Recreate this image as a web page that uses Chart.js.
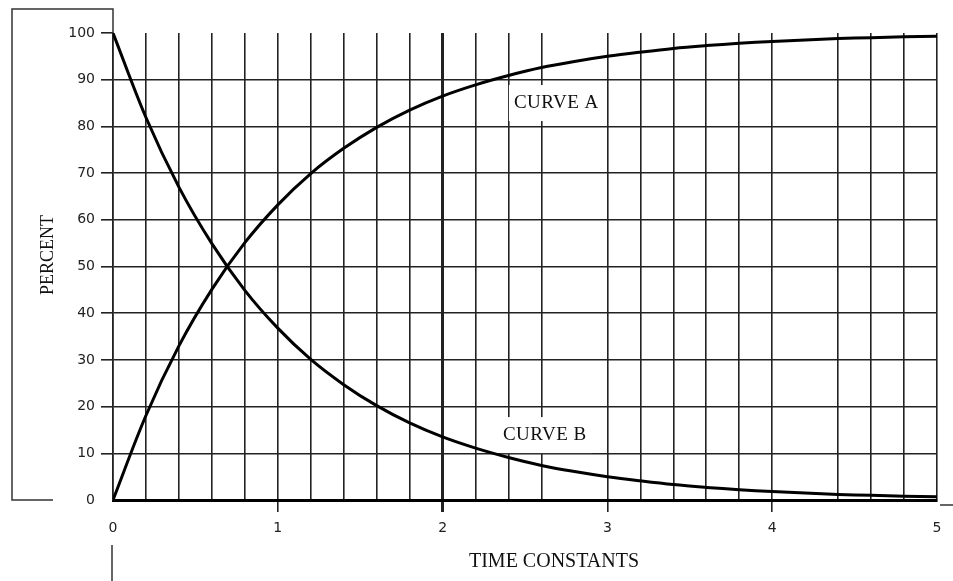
<!DOCTYPE html>
<html>
<head>
<meta charset="utf-8">
<script src="https://cdn.jsdelivr.net/npm/chart.js@4.4.1/dist/chart.umd.min.js"></script>
<style>
    html, body { margin: 0; padding: 0; background: #ffffff; }
    #wrap { width: 953px; height: 581px; }
</style>
</head>
<body>
<div id="wrap"><canvas id="timeConstantChart" width="953" height="581"></canvas></div>
<script>
// Time axis, one point every 0.2 time constants.
const timeConstants = [0, 0.2, 0.4, 0.6, 0.8, 1, 1.2, 1.4, 1.6, 1.8, 2, 2.2, 2.4, 2.6, 2.8,
    3, 3.2, 3.4, 3.6, 3.8, 4, 4.2, 4.4, 4.6, 4.8, 5];

// Curve A (rising) and curve B (falling), percent.
const curveA = [0, 18.1, 33, 45.1, 55.1, 63.2, 69.9, 75.3, 79.8, 83.5, 86.5, 88.9, 90.9, 92.6, 93.9,
    95, 95.9, 96.7, 97.3, 97.8, 98.2, 98.5, 98.8, 99, 99.2, 99.3];
const curveB = [100, 81.9, 67, 54.9, 44.9, 36.8, 30.1, 24.7, 20.2, 16.5, 13.5, 11.1, 9.1, 7.4, 6.1,
    5, 4.1, 3.3, 2.7, 2.2, 1.8, 1.5, 1.2, 1, 0.8, 0.7];

// Vertical grid lines that the original drawing leaves out.
const missingGridLines = [2.8, 4.2];

// Curve names, placed in data units.
const curveNames = ["CURVE A", "CURVE B"];
const curveNameX = [2.69, 2.62];
const curveNameY = [85, 13.9];

const xTitle = "TIME CONSTANTS";
const yTitle = "PERCENT";

const INK = "#222222";

function round1(v) {
    return Math.round(v * 10) / 10;
}

/**
 * Draws the curve names (on a white patch that hides the grid), the axis titles
 * and the odd frame lines of the old drawing.
 */
const decorations = {
    id: "decorations",
    beforeDatasetsDraw(chart) {
        const ctx = chart.ctx;
        const x = chart.scales.x;
        const y = chart.scales.y;
        ctx.save();
        ctx.font = '19px "Liberation Serif"';
        ctx.letterSpacing = "0.5px";
        curveNames.forEach((name, i) => {
            const cx = x.getPixelForValue(curveNameX[i]);
            const cy = y.getPixelForValue(curveNameY[i]);
            const w = ctx.measureText(name).width;
            ctx.fillStyle = "#ffffff";
            ctx.fillRect(cx - w / 2 - 5, cy - 18, w + 10, 36);
        });
        ctx.restore();
    },
    afterDatasetsDraw(chart) {
        const ctx = chart.ctx;
        const x = chart.scales.x;
        const y = chart.scales.y;
        ctx.save();
        ctx.font = '19px "Liberation Serif"';
        ctx.letterSpacing = "0.5px";
        ctx.fillStyle = "#111111";
        ctx.textAlign = "center";
        ctx.textBaseline = "middle";
        curveNames.forEach((name, i) => {
            ctx.fillText(name, x.getPixelForValue(curveNameX[i]), y.getPixelForValue(curveNameY[i]));
        });
        ctx.restore();
    },
    afterDraw(chart) {
        const ctx = chart.ctx;
        const area = chart.chartArea;
        ctx.save();

        // Axis titles.
        ctx.fillStyle = "#111111";
        ctx.font = '20px "Liberation Serif"';
        ctx.textAlign = "center";
        ctx.textBaseline = "middle";
        ctx.fillText(xTitle, 554, 562);
        ctx.font = '18px "Liberation Serif"';
        ctx.translate(48, 255);
        ctx.rotate(-Math.PI / 2);
        ctx.fillText(yTitle, 0, 0);
        ctx.setTransform(1, 0, 0, 1, 0, 0);

        // Frame pieces.
        ctx.strokeStyle = "#333333";
        ctx.lineWidth = 1.5;
        ctx.beginPath();
        ctx.moveTo(53, 500);
        ctx.lineTo(12, 500);
        ctx.lineTo(12, 9);
        ctx.lineTo(area.left, 9);
        ctx.lineTo(area.left, area.top);
        ctx.moveTo(area.left - 1, 545);
        ctx.lineTo(area.left - 1, 581);
        ctx.moveTo(940, 505);
        ctx.lineTo(953, 505);
        ctx.stroke();
        ctx.restore();
    }
};

function loadChart() {
    const ctx = document.querySelector("#timeConstantChart").getContext("2d");

    new Chart(ctx, {
        type: "line",
        data: {
            datasets: [{
                label: "Curve A",
                data: timeConstants.map((t, i) => ({ x: t, y: curveA[i] })),
                borderColor: "#000000",
                borderWidth: 3,
                pointRadius: 0,
                fill: false,
                tension: 0.35
            }, {
                label: "Curve B",
                data: timeConstants.map((t, i) => ({ x: t, y: curveB[i] })),
                borderColor: "#000000",
                borderWidth: 3,
                pointRadius: 0,
                fill: false,
                tension: 0.35
            }]
        },
        options: {
            responsive: false,
            devicePixelRatio: 1,
            animation: false,
            layout: {
                padding: { top: 33, right: 16, left: 0, bottom: 0 }
            },
            plugins: {
                legend: { display: false },
                tooltip: { enabled: false }
            },
            scales: {
                x: {
                    type: "linear",
                    min: 0,
                    max: 5,
                    afterFit: scale => { scale.height = 81; },
                    border: { color: "#000000", width: 3 },
                    grid: {
                        tickLength: 12,
                        color: c => missingGridLines.includes(round1(c.tick.value)) ? "rgba(0,0,0,0)" : INK,
                        lineWidth: c => round1(c.tick.value) === 2 ? 3 : 1.6,
                        tickColor: c => {
                            const v = round1(c.tick.value);
                            return Number.isInteger(v) && v > 0 && v < 5 ? INK : "rgba(0,0,0,0)";
                        }
                    },
                    ticks: {
                        stepSize: 0.2,
                        autoSkip: false,
                        maxRotation: 0,
                        padding: 8,
                        color: INK,
                        font: { family: "DejaVu Sans", size: 14 },
                        callback: v => Number.isInteger(round1(v)) ? String(round1(v)) : ""
                    }
                },
                y: {
                    min: 0,
                    max: 100,
                    afterFit: scale => { scale.width = 113; },
                    border: { color: INK, width: 1.6 },
                    grid: {
                        tickLength: 12,
                        lineWidth: 1.6,
                        color: c => (c.tick.value === 0 || c.tick.value === 100) ? "rgba(0,0,0,0)" : INK,
                        tickColor: c => c.tick.value === 0 ? "rgba(0,0,0,0)" : INK
                    },
                    ticks: {
                        stepSize: 10,
                        padding: 6,
                        color: INK,
                        font: { family: "DejaVu Sans", size: 14 }
                    }
                }
            }
        },
        plugins: [decorations]
    });
}

loadChart();
</script>
</body>
</html>
